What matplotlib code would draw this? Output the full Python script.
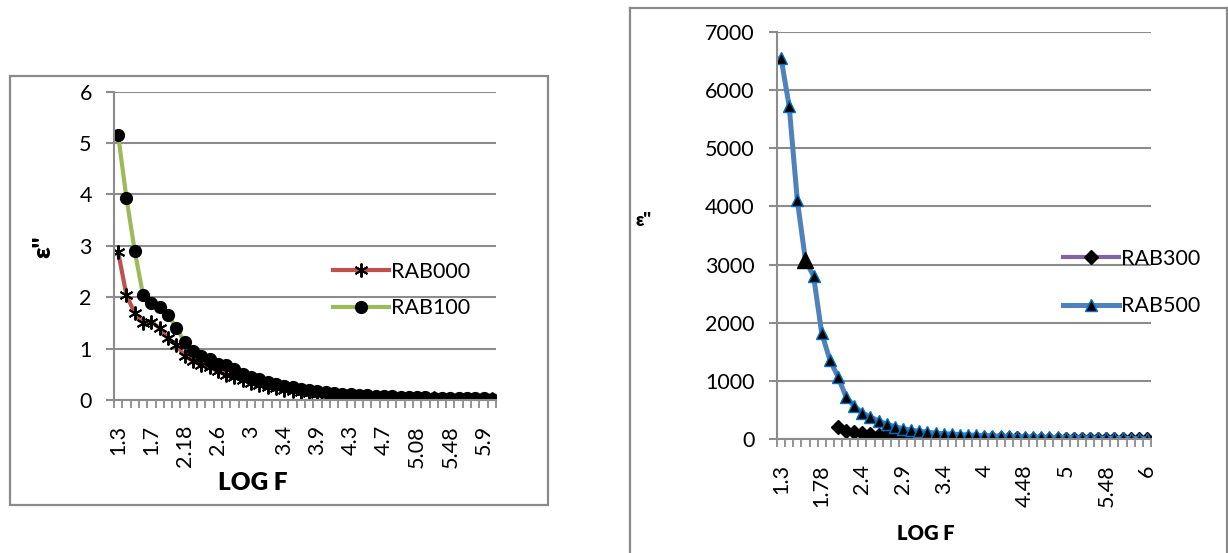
import numpy as np
import matplotlib
matplotlib.use("Agg")
import matplotlib.pyplot as plt
from matplotlib.patches import Rectangle
from matplotlib.lines import Line2D

# ------------------------------------------------------------
# DATA
# ------------------------------------------------------------
log_f = ["1.3", "1.4", "1.5", "1.6", "1.7", "1.78", "1.9", "2", "2.18", "2.3",
         "2.4", "2.48", "2.6", "2.7", "2.78", "2.9", "3", "3.1", "3.18", "3.3",
         "3.4", "3.48", "3.6", "3.7", "3.9", "4", "4.08", "4.18", "4.3", "4.4",
         "4.48", "4.6", "4.7", "4.78", "4.9", "5", "5.08", "5.18", "5.3", "5.4",
         "5.48", "5.6", "5.7", "5.78", "5.9", "6"]

rab000 = [2.88, 2.04, 1.69, 1.50, 1.52, 1.40, 1.20, 1.08, 0.86, 0.76,
          0.68, 0.64, 0.56, 0.49, 0.44, 0.39, 0.34, 0.30, 0.26, 0.23,
          0.20, 0.18, 0.16, 0.14, 0.12, 0.11, 0.10, 0.09, 0.08, 0.07,
          0.065, 0.06, 0.055, 0.05, 0.045, 0.04, 0.037, 0.034, 0.031, 0.028,
          0.026, 0.024, 0.022, 0.02, 0.018, 0.016]

rab100 = [5.15, 3.93, 2.90, 2.04, 1.89, 1.81, 1.65, 1.41, 1.12, 0.95,
          0.85, 0.80, 0.70, 0.68, 0.60, 0.50, 0.45, 0.40, 0.35, 0.31,
          0.27, 0.25, 0.21, 0.19, 0.17, 0.15, 0.13, 0.12, 0.11, 0.10,
          0.09, 0.08, 0.075, 0.07, 0.065, 0.06, 0.055, 0.05, 0.047, 0.044,
          0.041, 0.038, 0.035, 0.033, 0.03, 0.028]

rab300 = [np.nan] * 7 + [216, 148, 118, 101, 91, 79, 72, 64, 56, 49,
                         44, 39, 35, 31, 28, 25, 23, 21, 19, 17,
                         15, 14, 13, 12, 11, 10, 9, 8, 7, 7,
                         6, 6, 5, 5, 4, 4, 3, 3, 3]

rab500 = [6546, 5716, 4103, 3074, 2801, 1820, 1364, 1074, 728, 565,
          450, 380, 315, 260, 215, 180, 155, 135, 120, 105,
          95, 88, 80, 74, 68, 62, 57, 53, 49, 45,
          42, 39, 36, 33, 30, 28, 26, 24, 22, 20,
          18, 16, 14, 12, 10, 8]

W, H = 1228, 553
GRID = "#8c8c8c"
FRAME = "#8a8a8a"

plt.rcParams["font.family"] = ["Lato", "DejaVu Sans"]

fig = plt.figure(figsize=(W / 100, H / 100), dpi=100)


def px(x0, y_top, x1, y_bot):
    # pixel box -> [left, bottom, width, height] figure fractions
    return [x0 / W, 1 - y_bot / H, (x1 - x0) / W, (y_bot - y_top) / H]


def excel_axes(ax, ymax, ystep, label_step, label_pad):
    n = len(log_f)
    ax.set_xlim(-0.5, n - 0.5)
    ax.set_ylim(0, ymax)
    ax.set_yticks(np.arange(0, ymax + ystep / 2, ystep))
    ax.yaxis.grid(True, color=GRID, linewidth=1.5)
    ax.set_axisbelow(True)
    for s in ["top", "right"]:
        ax.spines[s].set_visible(False)
    for s in ["left", "bottom"]:
        ax.spines[s].set_color(GRID)
        ax.spines[s].set_linewidth(1.5)
    # labels at every n-th category, tick marks between categories
    pos = list(range(0, n, label_step))
    ax.set_xticks(pos)
    ax.set_xticklabels([log_f[i] for i in pos], rotation=90, fontsize=15.5)
    ax.set_xticks(np.arange(-0.5, n, 1.0), minor=True)
    ax.tick_params(axis="x", which="major", length=0, pad=label_pad)
    ax.tick_params(axis="x", which="minor", length=6, width=1.3, color=GRID, direction="out")
    ax.tick_params(axis="y", length=6, width=1.5, color=GRID, pad=10, labelsize=15.5)


x = np.arange(len(log_f))

# --- left chart: RAB000 / RAB100 ---
ax1 = fig.add_axes(px(114, 91.7, 496, 400))
ax1.plot(x, rab000, color="#C0504D", linewidth=3, marker=(6, 2, 0),
         markersize=10, markeredgecolor="black", markeredgewidth=1.4, label="RAB000")
ax1.plot(x, rab100, color="#9BBB59", linewidth=3, marker="o",
         markersize=8.5, markerfacecolor="black", markeredgecolor="black", label="RAB100")
excel_axes(ax1, 6, 1, 4, 18)
ax1.legend(loc="center left", bbox_to_anchor=(333 / W, 1 - 290 / H),
           bbox_transform=fig.transFigure, frameon=False, fontsize=15.5,
           handlelength=2.6, handletextpad=0.1, labelspacing=0.75,
           borderpad=0, borderaxespad=0)
fig.text(253 / W, 1 - 483 / H, "LOG F", ha="center", va="center",
         fontsize=17.5, fontweight="heavy")
fig.text(43 / W, 1 - 247 / H, "\u03b5''", ha="center", va="center",
         rotation=90, fontsize=18, fontweight="heavy")

# --- right chart: RAB300 / RAB500 ---
ax2 = fig.add_axes(px(777, 31.7, 1151, 439.2))
ax2.plot(x, rab300, color="#8064A2", linewidth=3, marker="D",
         markersize=7, markerfacecolor="black", markeredgecolor="black", label="RAB300")
ax2.plot(x, rab500, color="#4F81BD", linewidth=3.6, marker="^",
         markersize=8, markerfacecolor="black", markeredgecolor="#0070C0",
         markeredgewidth=1, label="RAB500")
ax2.plot(x[3], rab500[3], linestyle="none", marker="^", markersize=11,
         color="black")
excel_axes(ax2, 7000, 1000, 5, 18)
ax2.legend(loc="center left", bbox_to_anchor=(1063 / W, 1 - 282.5 / H),
           bbox_transform=fig.transFigure, frameon=False, fontsize=15.5,
           handlelength=2.6, handletextpad=0.1, labelspacing=1.3,
           borderpad=0, borderaxespad=0)
fig.text(926 / W, 1 - 534 / H, "LOG F", ha="center", va="center",
         fontsize=14.5, fontweight="heavy")
fig.text(643 / W, 1 - 220 / H, "\u03b5''", ha="center", va="center",
         fontsize=13, fontweight="heavy")

# chart frames
fig.add_artist(Rectangle((10 / W, 1 - 505 / H), 538 / W, 429.3 / H,
                         transform=fig.transFigure, fill=False,
                         edgecolor=FRAME, linewidth=1.6))
fig.add_artist(Line2D([630 / W, 630 / W], [0, 1 - 8 / H],
                      transform=fig.transFigure, color=FRAME, linewidth=1.6))
fig.add_artist(Line2D([630 / W, 1227 / W], [1 - 8 / H, 1 - 8 / H],
                      transform=fig.transFigure, color=FRAME, linewidth=1.6))
fig.add_artist(Line2D([1227 / W, 1227 / W], [0, 1 - 8 / H],
                      transform=fig.transFigure, color=FRAME, linewidth=1.6))

plt.savefig("out.png", dpi=100)
print("Saved: out.png")
